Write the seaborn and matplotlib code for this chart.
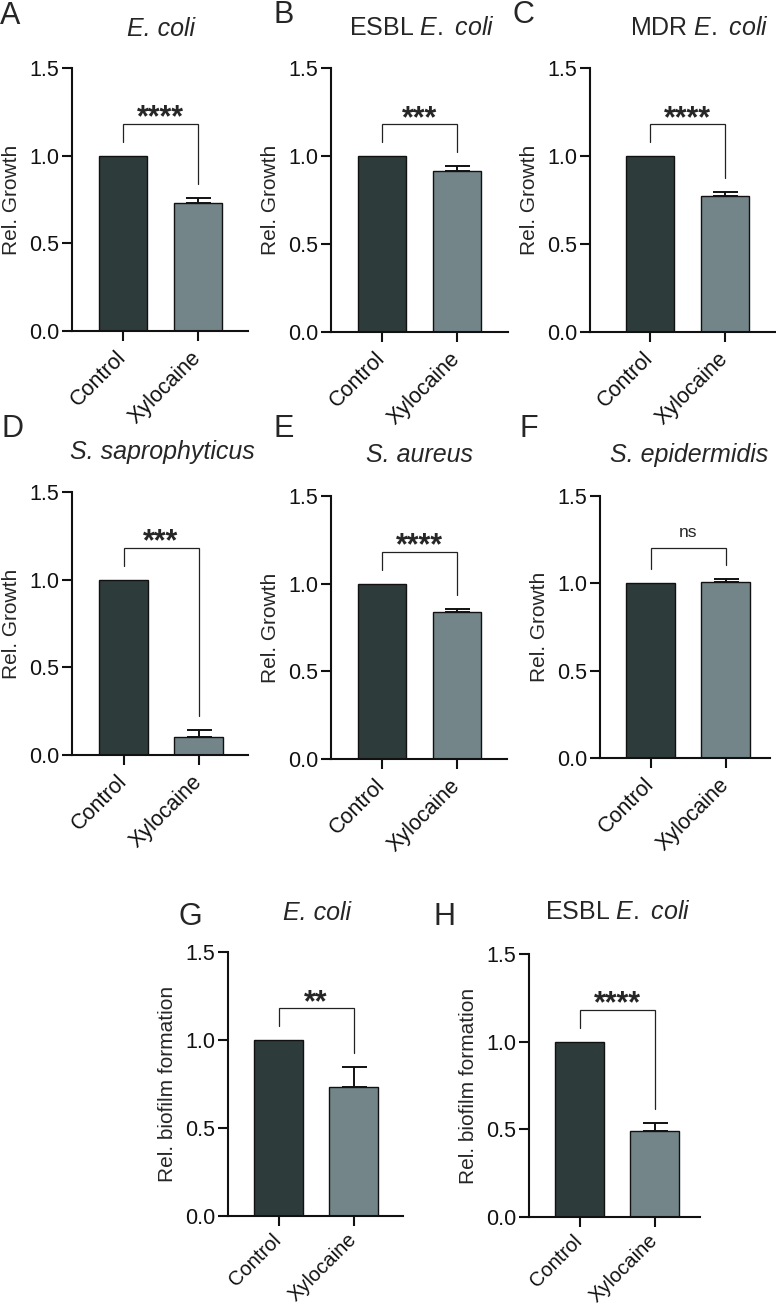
import matplotlib
matplotlib.use("Agg")
import matplotlib.pyplot as plt
import pandas as pd
import seaborn as sns

# data
groups = ["Control", "Xylocaine"]
panel_letters = ["A", "B", "C", "D", "E", "F", "G", "H"]
strain_prefix = ["", "ESBL", "MDR", "", "", "", "", "ESBL"]
organism = ["E. coli", "E. coli", "E. coli", "S. saprophyticus",
            "S. aureus", "S. epidermidis", "E. coli", "E. coli"]
y_labels = ["Rel. Growth"] * 6 + ["Rel. biofilm formation"] * 2
control_mean = [1.0, 1.0, 1.0, 1.0, 1.0, 1.0, 1.0, 1.0]
xylocaine_mean = [0.73, 0.915, 0.775, 0.105, 0.84, 1.008, 0.735, 0.49]
xylocaine_err = [0.03, 0.03, 0.02, 0.035, 0.015, 0.015, 0.11, 0.045]
significance = ["****", "***", "****", "***", "****", "ns", "**", "****"]

bar_colors = ["#2e3b3b", "#738589"]
ink = "#111111"

W, H = 776, 1307

# layout in pixels: axis left, first bar centre, axis right, top (1.5), bottom (0.0)
boxes = [
    (72, 123, 248, 68, 331),
    (331, 382, 508, 68, 332),
    (590, 650, 775, 68, 332),
    (72, 123.5, 248, 492, 755),
    (331, 382, 507, 496, 759),
    (600, 650.5, 770, 496, 758),
    (228, 278.5, 403, 952, 1216),
    (529, 579.5, 700, 954, 1217),
]
title_pos = [(161, 36), (422, 35), (699, 35), (162, 459), (420, 462),
             (689, 462), (317, 920), (618, 919)]
letter_pos = [(0, 24), (273, 23), (512, 23), (2, 437), (273, 437),
              (519, 437), (178, 925), (433, 925)]
step = 75.0  # px between category centres

sns.set_theme(style="ticks")
plt.rcParams["font.family"] = ["Liberation Sans", "DejaVu Sans"]
plt.rcParams["mathtext.fontset"] = "custom"
plt.rcParams["mathtext.rm"] = "Liberation Sans"
plt.rcParams["mathtext.it"] = "Liberation Sans:italic"

fig = plt.figure(figsize=(W / 100, H / 100), dpi=100)

for i in range(8):
    left, c0, right, top, bottom = boxes[i]
    ax = fig.add_axes([left / W, 1 - bottom / H, (right - left) / W, (bottom - top) / H])

    df = pd.DataFrame({"group": groups, "value": [control_mean[i], xylocaine_mean[i]]})
    sns.barplot(data=df, x="group", y="value", hue="group", palette=bar_colors,
                saturation=1, width=0.65, edgecolor=ink, linewidth=1.0,
                errorbar=None, legend=False, ax=ax)

    # upper-only error bar on the treated group
    ax.errorbar([1], [xylocaine_mean[i]], yerr=[[0], [xylocaine_err[i]]], fmt="none",
                ecolor=ink, elinewidth=1.4, capsize=9, capthick=1.4, zorder=1)

    # significance bracket
    lft = control_mean[i] + 0.08
    rgt = xylocaine_mean[i] + xylocaine_err[i] + 0.08
    topb = max(lft, rgt) + 0.1
    ax.plot([0, 0, 1, 1], [lft, topb, topb, rgt], color="#222222", lw=0.9,
            solid_joinstyle="miter")
    if significance[i] == "ns":
        ax.text(0.5, topb + 0.06, "ns", ha="center", va="baseline", fontsize=12.5)
    else:
        ax.text(0.5, topb - 0.015, significance[i], ha="center", va="baseline",
                fontsize=22, fontweight="bold")

    ax.set_xlim(-(c0 - left) / step, (right - c0) / step)
    ax.set_ylim(0, 1.5)
    ax.set_yticks([0, 0.5, 1.0, 1.5])
    ax.set_yticklabels(["0.0", "0.5", "1.0", "1.5"])
    ax.set_xlabel("")
    ax.set_ylabel(y_labels[i], fontsize=15)
    ax.yaxis.set_label_coords(-51 / (right - left), 0.5)

    sns.despine(ax=ax)
    for s in ["left", "bottom"]:
        ax.spines[s].set_linewidth(1.5)
        ax.spines[s].set_color(ink)
    ax.tick_params(axis="both", direction="out", length=7, width=1.5, color=ink,
                   labelcolor=ink)
    ax.tick_params(axis="y", labelsize=15.5, pad=2)
    if i < 6:
        ax.tick_params(axis="x", labelsize=15.5, pad=10)
    else:
        ax.tick_params(axis="x", labelsize=14.5, pad=8)
    for lab in ax.get_xticklabels():
        lab.set_rotation(45)
        lab.set_ha("right")
        lab.set_va("center")
        lab.set_rotation_mode("anchor")

    if strain_prefix[i]:
        parts = ["$\\mathit{" + w + "}$" for w in organism[i].split(" ")]
        title = strain_prefix[i] + " " + " ".join(parts)
        fig.text(title_pos[i][0] / W, 1 - title_pos[i][1] / H, title,
                 ha="center", va="baseline", fontsize=18)
    else:
        fig.text(title_pos[i][0] / W, 1 - title_pos[i][1] / H, organism[i],
                 ha="center", va="baseline", fontsize=18, fontstyle="italic")

    fig.text(letter_pos[i][0] / W, 1 - letter_pos[i][1] / H, panel_letters[i],
             ha="left", va="baseline", fontsize=22)

fig.savefig("out.png", dpi=100)
